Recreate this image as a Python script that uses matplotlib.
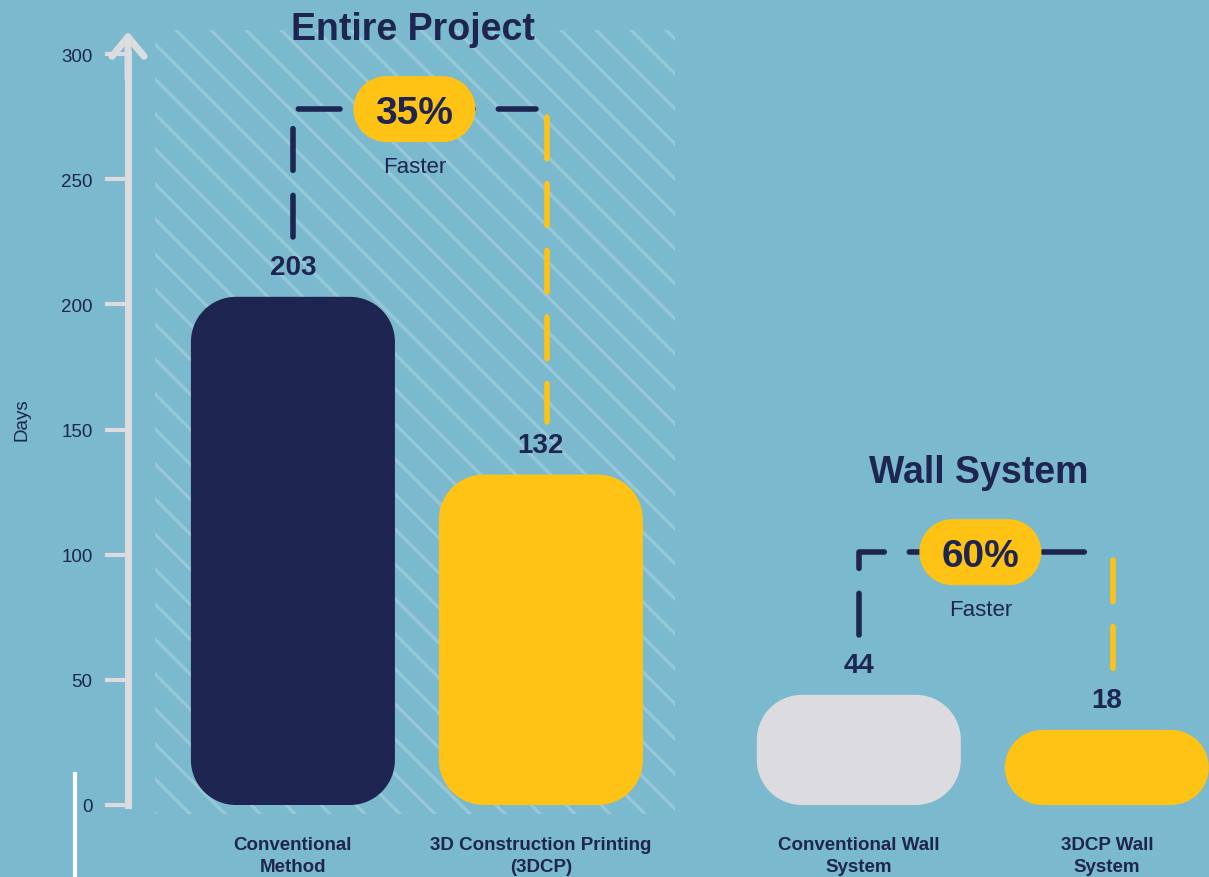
import matplotlib.pyplot as plt
import matplotlib.transforms as mtransforms
from matplotlib.patches import PathPatch, Rectangle
from matplotlib.path import Path
from matplotlib.lines import Line2D
import numpy as np

# --- data ---
labels = ["Conventional\nMethod", "3D Construction Printing\n(3DCP)",
          "Conventional Wall\nSystem", "3DCP Wall\nSystem"]
days = [203, 132, 44, 18]
group_titles = ["Entire Project", "Wall System"]
savings = ["35%", "60%"]

# --- layout ---
positions = [0, 1, 2.282, 3.282]
bracket_levels = [278, 101]
BG = "#7ab9ce"
NAVY = "#1e2550"
YELLOW = "#ffc316"
LIGHT = "#dcdbe0"
bar_colors = [NAVY, YELLOW, LIGHT, YELLOW]

plt.rcParams['font.family'] = ['Liberation Sans', 'DejaVu Sans']


def rounded_rect(x0, y0, w, h, rx, ry):
    """Rectangle with circular-looking corners (rx, ry = corner radius per axis)."""
    verts, codes = [], []
    corners = [(x0 + w - rx, y0 + ry, 270, 360), (x0 + w - rx, y0 + h - ry, 0, 90),
               (x0 + rx, y0 + h - ry, 90, 180), (x0 + rx, y0 + ry, 180, 270)]
    for cx, cy, t1, t2 in corners:
        arc = Path.arc(t1, t2)
        v = arc.vertices * [rx, ry] + [cx, cy]
        c = list(arc.codes)
        c[0] = Path.MOVETO if not codes else Path.LINETO
        verts.extend(v)
        codes.extend(c)
    verts.append(verts[0])
    codes.append(Path.CLOSEPOLY)
    return Path(np.array(verts), codes)


W, H = 1209, 878
fig = plt.figure(figsize=(W / 100, H / 100), dpi=100, facecolor=BG)
ax = fig.add_axes([128 / W, 72 / H, 1081 / W, 751 / H])
ax.set_facecolor(BG)
ax.set_xlim(-0.665, 3.694)
ax.set_ylim(0, 300)

for s in ['top', 'right', 'bottom']:
    ax.spines[s].set_visible(False)
ax.spines['left'].set_color(LIGHT)
ax.spines['left'].set_linewidth(5)

ax.set_yticks(range(0, 301, 50))
ax.tick_params(axis='y', color=LIGHT, labelcolor=NAVY, length=16.5, width=3,
               pad=9, labelsize=13.5)
ax.set_xticks(positions, labels, fontweight='bold', fontsize=13.5, color=NAVY,
              linespacing=1.45)
ax.tick_params(axis='x', length=0, pad=22)
ax.set_ylabel("Days", color=NAVY, fontsize=13.5)
ax.yaxis.set_label_coords(-0.09, 0.514)

# arrow head on the y axis
ax.annotate('', xy=(0, 309), xytext=(0, 290),
            xycoords=('axes fraction', 'data'), textcoords=('axes fraction', 'data'),
            arrowprops=dict(arrowstyle='->,head_length=0.7,head_width=0.58',
                            lw=5, color=LIGHT, shrinkA=0, shrinkB=0,
                            mutation_scale=20, capstyle='round', joinstyle='round'),
            annotation_clip=False)

# pixel scale of the data units
px_x = 1081 / (3.694 + 0.665)
px_y = 751 / 300

# striped background behind the first group
stripe = Rectangle((-0.556, -3.6), 2.096, 313.2, fill=False, lw=0,
                   transform=ax.transData)
ax.add_artist(stripe)
stripe.set_clip_on(False)
fig.canvas.draw()
(x0, y0), (x1, y1) = ax.transData.transform([(-0.556, -3.6), (1.54, 309.6)])
for c in np.arange(x0 - (y1 - y0), x1 + 35, 35):
    ln = Line2D([c, c + (y1 - y0)], [y1, y0], transform=mtransforms.IdentityTransform(),
                color='white', alpha=0.22, lw=2.4, zorder=1)
    ax.add_artist(ln)
    ln.set_clip_path(stripe)

# rounded bars
bar_w = 204 / px_x
tops = []
for x, v, col in zip(positions, days, bar_colors):
    h = max(v, 30)
    tops.append(h)
    r = min(45, h * px_y / 2)
    ax.add_patch(PathPatch(rounded_rect(x - bar_w / 2, 0, bar_w, h, r / px_x, r / px_y),
                           fc=col, ec='none', zorder=3))

label_y = [t + 12 for t in tops]
for x, v, ly in zip(positions, days, label_y):
    ax.text(x, ly, str(v), ha='center', va='center', fontsize=20,
            fontweight='bold', color=NAVY, zorder=6)

# brackets, pills and titles
pill_path = rounded_rect(-61, -33, 122, 66, 33, 33)
for g in range(2):
    a, b = 2 * g, 2 * g + 1
    by = bracket_levels[g]
    mid = (positions[a] + positions[b]) / 2
    ax.plot([positions[a], positions[a], positions[b] - 0.02],
            [label_y[a] + 12, by, by], color=NAVY, lw=4,
            linestyle=(0, (7.5, 4.5)), dash_capstyle='round', solid_joinstyle='round',
            zorder=4, clip_on=False)
    ax.plot([positions[b] + 0.025] * 2, [by - 3, label_y[b] + 9], color=YELLOW,
            lw=4, linestyle=(0, (7.5, 4.5)), dash_capstyle='round', zorder=4,
            clip_on=False)
    t = mtransforms.IdentityTransform() + mtransforms.ScaledTranslation(mid - 0.01, by, ax.transData)
    pill = PathPatch(pill_path, fc=YELLOW, ec='none', transform=t, zorder=5)
    ax.add_artist(pill)
    pill.set_clip_on(False)
    ax.text(mid - 0.01, by, savings[g], ha='center', va='center_baseline', fontsize=28,
            fontweight='bold', color=NAVY, zorder=6)
    ax.text(mid - 0.01, by - 23, "Faster", ha='center', va='center', fontsize=16,
            color=NAVY, zorder=6)
    ax.text(mid - 0.015, by + 32, group_titles[g], ha='center', va='center',
            fontsize=27, fontweight='bold', color=NAVY, zorder=6, clip_on=False)

# small white mark at bottom left
fig.add_artist(Line2D([75 / W, 75 / W], [0, 1 - 775 / H], color='white', lw=3))

fig.savefig("out.png", dpi=100, facecolor=BG)
